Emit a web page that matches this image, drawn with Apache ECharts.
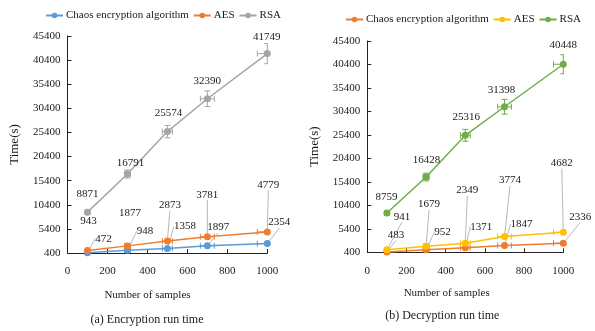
<!DOCTYPE html>
<html><head><meta charset="utf-8">
<script src="https://cdn.jsdelivr.net/npm/echarts@6/dist/echarts.min.js"></script>
<style>
html,body{margin:0;padding:0;background:#fff;}
#a{position:absolute;left:0;top:0;width:297px;height:331px;}
#b{position:absolute;left:297px;top:0;width:298px;height:331px;}
</style>
</head><body><div id="a"></div><div id="b"></div>
<script>
// ---------------- data ----------------
const samples = [100, 300, 500, 700, 1000];
const seriesNames = ['Chaos encryption algorithm', 'AES', 'RSA'];
const xAxisName = 'Number of samples';
const yAxisName = 'Time(s)';
const captionA = '(a) Encryption run time';
const captionB = '(b) Decryption run time';

const encChaos = [472, 948, 1358, 1897, 2354];
const encAES   = [943, 1877, 2873, 3781, 4779];
const encRSA   = [8871, 16791, 25574, 32390, 41749];

const decChaos = [483, 952, 1371, 1847, 2336];
const decAES   = [941, 1679, 2349, 3774, 4682];
const decRSA   = [8759, 16428, 25316, 31398, 40448];

// error bar setting (percentage of value, both directions)
const errorPct = 0.05;

// ---------------- label layout (pixel offsets of label centre from point) ----------------
const encLabelOffsets = [
  [[16,-14],[17.5,-19],[17.5,-22],[11,-18.5],[12,-21]],
  [[1,-29],[2.5,-32.6],[2.5,-36],[0,-42],[1,-47]],
  [[0,-18],[3,-11],[1,-18.5],[0,-17.3],[-0.5,-16.7]]
];
const encLeaders = [[1,1,1,1,1],[0,0,1,1,1],[0,0,0,0,0]];
const decLabelOffsets = [
  [[9,-17],[16.5,-17.5],[16,-21],[17,-21.5],[17,-26.5]],
  [[15,-33],[3,-42],[2,-53],[5.5,-56],[-1.5,-69]],
  [[-0.5,-16],[0.5,-17],[1,-18],[-3,-17],[0,-18.7]]
];
const decLeaders = [[1,1,1,1,1],[1,1,1,1,1],[0,0,0,0,0]];

const FONT = "'Liberation Serif','Times New Roman',serif";
const TXT = '#1a1a1a';

function build(el, cfg) {
  const chart = echarts.init(el, null, {renderer: 'canvas'});
  const valuesList = cfg.values;
  const series = [];
  valuesList.forEach((vals, si) => {
    const color = cfg.colors[si];
    // error bars
    series.push({
      type: 'custom',
      name: 'error-' + si,
      clip: true,
      silent: true,
      z: 1,
      legendHoverLink: false,
      data: samples.map((x, i) => [x, vals[i]]),
      renderItem: function (params, api) {
        const x = api.value(0), y = api.value(1);
        const ex = x * errorPct, ey = y * errorPct;
        const l = api.coord([x - ex, y]), r = api.coord([x + ex, y]);
        const t = api.coord([x, y + ey]), b = api.coord([x, y - ey]);
        const c = 3;
        const st = {stroke: color, lineWidth: 1};
        return {
          type: 'group',
          children: [
            {type: 'line', shape: {x1: l[0], y1: l[1], x2: r[0], y2: r[1]}, style: st},
            {type: 'line', shape: {x1: l[0], y1: l[1] - c, x2: l[0], y2: l[1] + c}, style: st},
            {type: 'line', shape: {x1: r[0], y1: r[1] - c, x2: r[0], y2: r[1] + c}, style: st},
            {type: 'line', shape: {x1: t[0], y1: t[1], x2: b[0], y2: b[1]}, style: st},
            {type: 'line', shape: {x1: t[0] - c, y1: t[1], x2: t[0] + c, y2: t[1]}, style: st},
            {type: 'line', shape: {x1: b[0] - c, y1: b[1], x2: b[0] + c, y2: b[1]}, style: st}
          ]
        };
      }
    });
  });
  valuesList.forEach((vals, si) => {
    const color = cfg.colors[si];
    const offs = cfg.offsets[si];
    const leads = cfg.leaders[si];
    series.push({
      type: 'line',
      name: seriesNames[si],
      z: 3,
      symbol: 'circle',
      symbolSize: 7,
      showSymbol: true,
      color: color,
      lineStyle: {color: color, width: 1.5},
      itemStyle: {color: color},
      data: samples.map((x, i) => ({
        value: [x, vals[i]],
        labelLine: {show: !!leads[i]}
      })),
      label: {
        show: true,
        position: 'top',
        fontFamily: FONT,
        fontSize: 11,
        color: TXT,
        formatter: p => String(p.value[1])
      },
      labelLine: {show: true, lineStyle: {color: '#a6a6a6', width: 0.8}},
      labelLayout: function (p) {
        const o = offs[p.dataIndex];
        const cx = p.rect.x + p.rect.width / 2, cy = p.rect.y + p.rect.height / 2;
        return {x: cx + o[0], y: cy + o[1], align: 'center', verticalAlign: 'middle'};
      }
    });
  });

  chart.setOption({
    animation: false,
    backgroundColor: '#fff',
    textStyle: {fontFamily: FONT},
    legend: {
      left: cfg.legendLeft, top: cfg.legendTop,
      itemWidth: 17, itemHeight: 7, itemGap: 4,
      textStyle: {fontFamily: FONT, fontSize: 11, color: TXT, padding: [0, 0, 0, -2]},
      data: seriesNames
    },
    grid: cfg.grid,
    xAxis: {
      type: 'value', min: 0, max: 1000, interval: 200,
      axisLine: {lineStyle: {color: '#222', width: 1}},
      axisTick: {show: true, inside: true, length: 4, lineStyle: {color: '#222'}},
      axisLabel: {fontFamily: FONT, fontSize: 11, color: TXT, margin: 13, formatter: v => String(v)},
      splitLine: {show: false}
    },
    yAxis: {
      type: 'value', min: 400, max: 45400, interval: 5000,
      name: yAxisName, nameLocation: 'middle', nameGap: 46, nameRotate: 90,
      nameTextStyle: {fontFamily: FONT, fontSize: 13, color: TXT},
      axisLine: {show: true, lineStyle: {color: '#222', width: 1}},
      axisTick: {show: true, inside: true, length: 4, lineStyle: {color: '#222'}},
      axisLabel: {fontFamily: FONT, fontSize: 11, color: TXT, margin: 7, formatter: v => String(v)},
      splitLine: {show: false}
    },
    graphic: [
      {type: 'text', x: cfg.xNamePos[0], y: cfg.xNamePos[1],
       style: {text: xAxisName, fontFamily: FONT, fontSize: 11, fill: TXT, align: 'center', verticalAlign: 'middle'}},
      {type: 'text', x: cfg.captionPos[0], y: cfg.captionPos[1],
       style: {text: cfg.caption, fontFamily: FONT, fontSize: 12, fill: TXT, align: 'center', verticalAlign: 'middle'}}
    ],
    series: series
  });
  return chart;
}

build(document.getElementById('a'), {
  values: [encChaos, encAES, encRSA],
  colors: ['#5B9BD5', '#ED7D31', '#A5A5A5'],
  offsets: encLabelOffsets,
  leaders: encLeaders,
  legendLeft: 40, legendTop: 5,
  grid: {left: 67.5, right: 29.7, top: 36, bottom: 78},
  xNamePos: [147.5, 295],
  captionPos: [147, 320],
  caption: captionA
});
build(document.getElementById('b'), {
  values: [decChaos, decAES, decRSA],
  colors: ['#ED7D31', '#FFC000', '#70AD47'],
  offsets: decLabelOffsets,
  leaders: decLeaders,
  legendLeft: 43, legendTop: 9,
  grid: {left: 70.3, right: 31.7, top: 41, bottom: 78.7},
  xNamePos: [149.7, 293.3],
  captionPos: [145.3, 316],
  caption: captionB
});
</script>
</body></html>
